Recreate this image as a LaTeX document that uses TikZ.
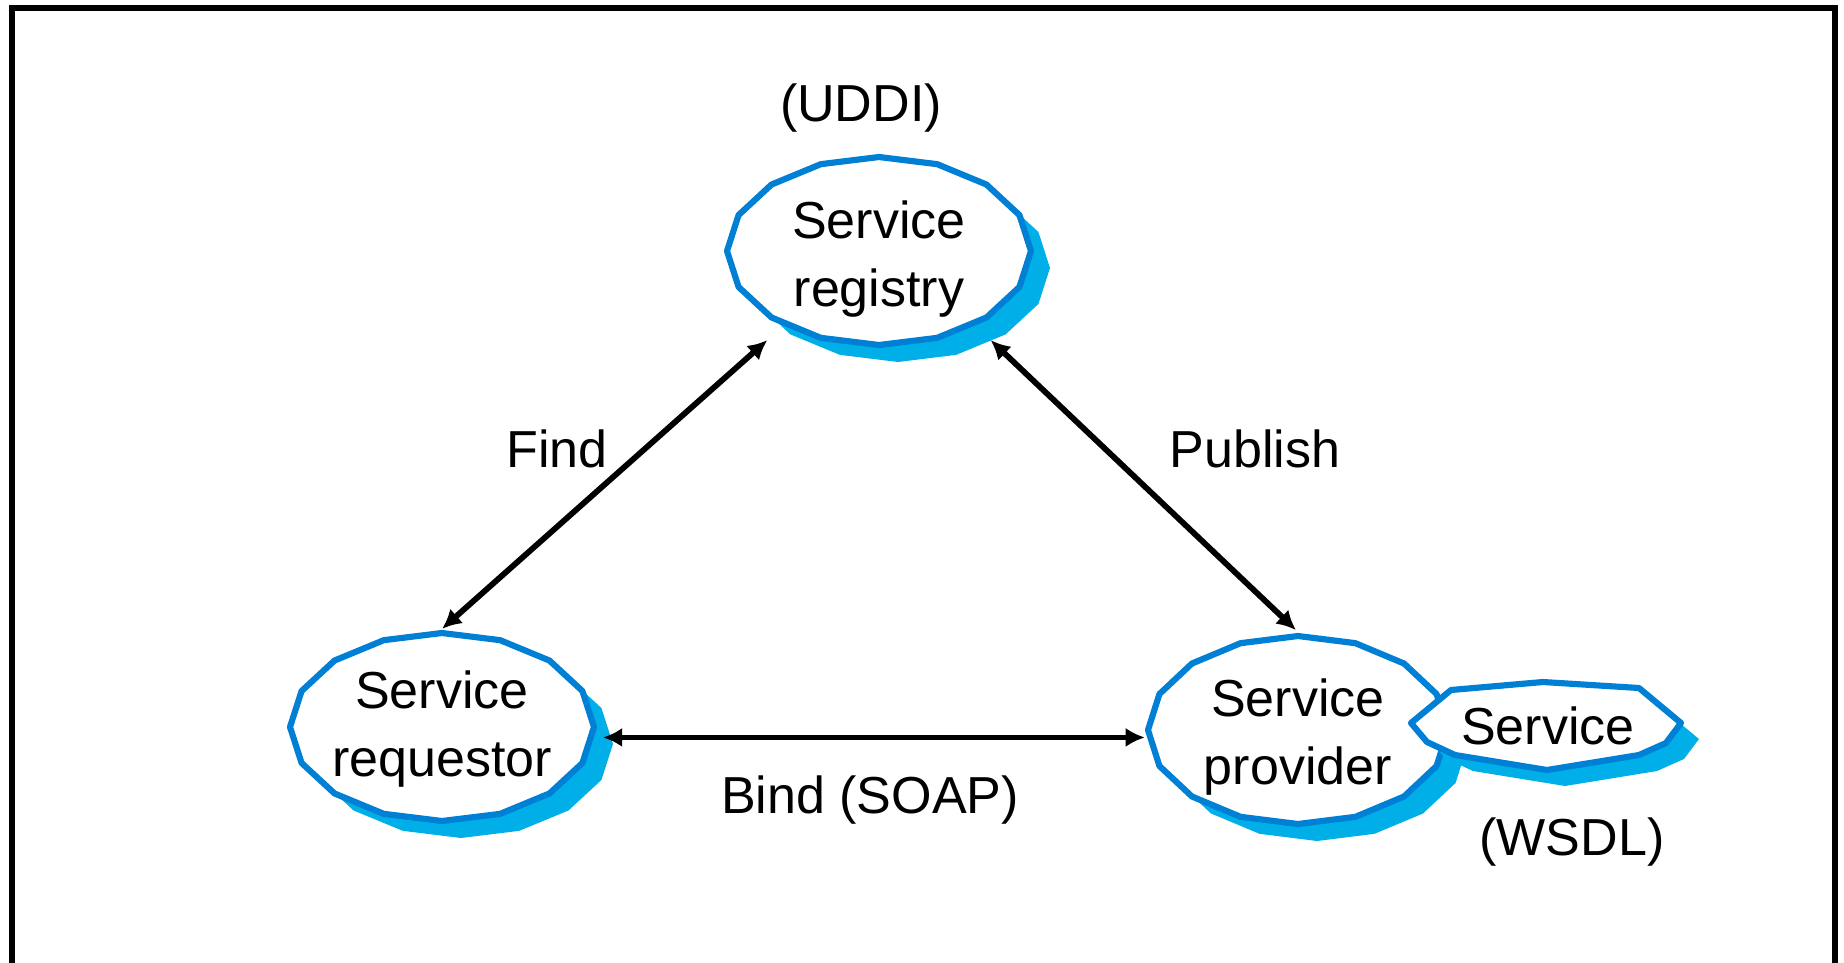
\documentclass[tikz,border=0pt]{standalone}
\usepackage{fontspec}
\setmainfont{Liberation Sans}
\usetikzlibrary{arrows.meta,shapes.geometric,backgrounds,calc}
\definecolor{outl}{RGB}{0,128,212}
\definecolor{shad}{RGB}{0,174,232}
\begin{document}
\begin{tikzpicture}[x=0.01cm,y=-0.01cm,
  txt/.style={font=\fontsize{14.8}{19.3}\selectfont, align=center, inner sep=0pt},
  blob/.style={txt, ellipse, minimum width=3.04cm, minimum height=1.88cm},
  outline/.style={draw=outl, line width=1.75pt, fill=white, line join=round},
  shadowfill/.style={fill=shad},
  conn/.style={line width=1.65pt, arrows={Latex[length=5.5pt,width=5.5pt]-Latex[length=5.5pt,width=5.5pt]}},
  frame/.style={line width=1.55pt}]
\useasboundingbox (0,0) rectangle (1844,963);
\clip (0,0) rectangle (1844,963);
\draw[frame] (12,990) -- (12,8) -- (1835,8) -- (1835,990);

\node[blob, outer sep=0.15cm] (reg) at (879,259) {Service\\registry};
\node[blob, outer sep=0.06cm] (req) at (442,729) {Service\\requestor};
\node[blob, outer sep=0.06cm] (prov) at (1298,737) {Service\\provider};
\node[txt] (svc) at (1548,726) {Service};
\node[txt] (uddi) at (861,108) {(UDDI)};
\node[txt] (wsdl) at (1572,842) {(WSDL)};
\node[txt] (find) at (557,449) {Find};
\node[txt] (pub) at (1255,449) {Publish};
\node[txt] (bind) at (870,800) {Bind (SOAP)};

\begin{scope}[on background layer]
  \foreach \n/\rx/\ry/\dy in {reg/152/94/-8, req/152/94/-2, prov/150/94/-7} {
    \fill[shadowfill, shift={($(\n.center)+(19,17+\dy)$)}]
      plot[samples at={0,22.5,...,337.5}] ({\rx*cos(\x)},{\ry*sin(\x)}) -- cycle;
    \draw[outline, shift={($(\n.center)+(0,\dy)$)}]
      plot[samples at={0,22.5,...,337.5}] ({\rx*cos(\x)},{\ry*sin(\x)}) -- cycle;
  }
  \fill[shadowfill, shift={($(svc.center)+(18,16)$)}]
    (-137,-3) -- (-97,-36) -- (-5,-44) -- (91,-38) -- (133,-3) -- (118,17)
    -- (91,29) -- (-1,44) -- (-93,29) -- (-121,16) -- cycle;
  \draw[outline, shift={(svc.center)}]
    (-137,-3) -- (-97,-36) -- (-5,-44) -- (91,-38) -- (133,-3) -- (118,17)
    -- (91,29) -- (-1,44) -- (-93,29) -- (-121,16) -- cycle;
\end{scope}

\draw[conn] (req.north) -- (reg.216);
\draw[conn, shorten >=0.1cm] (reg.324) -- (prov.87);
\draw[conn, shorten >=-0.05cm] (req.-3.8) -- (req.-3.8 -| prov.west);
\end{tikzpicture}
\end{document}
